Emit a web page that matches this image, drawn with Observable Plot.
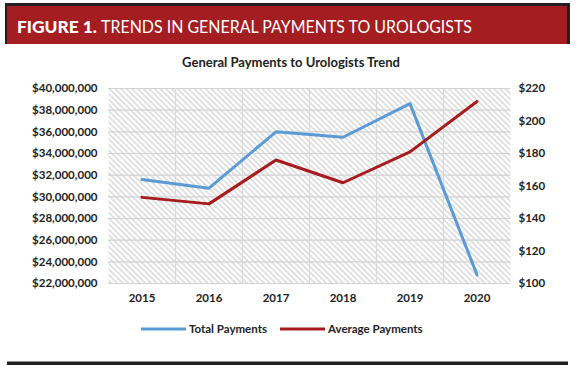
<!DOCTYPE html>
<html>
<head>
<meta charset="utf-8">
<script src="https://cdn.jsdelivr.net/npm/d3@7"></script>
<script src="https://cdn.jsdelivr.net/npm/@observablehq/plot@0.6"></script>
<style>
  html, body { margin: 0; padding: 0; background: #fff; }
  #wrap { position: relative; width: 576px; height: 376px; overflow: hidden; font-family: Lato, "Open Sans", sans-serif; }
  #chart { position: absolute; left: 0; top: 80px; }
  .abs { position: absolute; }
</style>
</head>
<body>
<div id="wrap">
  <svg class="abs" style="left:0;top:0" width="576" height="50">
    <rect x="5" y="3" width="565" height="41" fill="#231f20"></rect>
    <rect x="7" y="6" width="560" height="38" fill="#a41d21"></rect>
    <text x="17" y="33" fill="#fff" font-family="Lato, sans-serif" font-size="17.5" font-weight="900" textLength="80" lengthAdjust="spacingAndGlyphs">FIGURE 1.</text>
    <text x="101" y="33" fill="#fff" font-family="Lato, sans-serif" font-size="17.5" font-weight="400" textLength="371" lengthAdjust="spacingAndGlyphs">TRENDS IN GENERAL PAYMENTS TO UROLOGISTS</text>
  </svg>
  <div class="abs" id="title" style="left:0;top:54px;width:582px;text-align:center;font:bold 13px Lato, sans-serif;color:#222;">General Payments to Urologists Trend</div>
  <div id="chart"></div>
  <svg class="abs" id="legend" style="left:0;top:318px" width="576" height="24"></svg>
  <svg class="abs" style="left:0;top:355px" width="576" height="20">
    <rect x="7" y="6.5" width="561" height="3.5" fill="#231f20"></rect>
  </svg>
</div>
<script>
// ---- data ----
const years = [2015, 2016, 2017, 2018, 2019, 2020];
const totalPayments = [31600000, 30800000, 36000000, 35500000, 38600000, 22800000];
const averagePayments = [153, 149, 176, 162, 181, 212];
const leftTicks = [22000000, 24000000, 26000000, 28000000, 30000000, 32000000, 34000000, 36000000, 38000000, 40000000];
const rightTicks = [100, 120, 140, 160, 180, 200, 220];
const seriesNames = ["Total Payments", "Average Payments"];
const seriesColors = ["#5b9bd5", "#a61c1e"];

// map right-axis values onto the left scale (dual axis)
const L0 = 22000000, L1 = 40000000, R0 = 100, R1 = 220;
const toLeft = v => L0 + (v - R0) / (R1 - R0) * (L1 - L0);
const fromLeft = v => R0 + (v - L0) / (L1 - L0) * (R1 - R0);

const rows = years.map((y, i) => ({year: y, total: totalPayments[i], avg: averagePayments[i]}));
const fmtMoney = d => "$" + d3.format(",")(d);

const chart = Plot.plot({
  width: 576,
  height: 230,
  marginLeft: 108,
  marginRight: 66,
  marginTop: 8,
  marginBottom: 27,
  style: {fontFamily: "Lato, sans-serif", fontSize: "11.5px", fontWeight: "bold", color: "#222", background: "transparent"},
  x: {type: "linear", domain: [years[0] - 0.5, years[years.length - 1] + 0.5]},
  y: {domain: [L0, L1]},
  marks: [
    Plot.frame({fill: "url(#hatch)", stroke: null}),
    Plot.gridY({ticks: leftTicks, stroke: "#d2d2d2", strokeOpacity: 1, strokeWidth: 1.2}),
    Plot.gridX({ticks: years.slice(0, -1).map(y => y + 0.5), stroke: "#dadada", strokeOpacity: 1, strokeWidth: 1.2}),
    Plot.line(rows, {x: "year", y: "total", stroke: seriesColors[0], strokeWidth: 3}),
    Plot.line(rows, {x: "year", y: d => toLeft(d.avg), stroke: seriesColors[1], strokeWidth: 3}),
    Plot.axisY({ticks: leftTicks, tickFormat: fmtMoney, tickSize: 0, tickPadding: 11, label: null}),
    Plot.axisY({anchor: "right", ticks: rightTicks.map(toLeft), tickFormat: d => "$" + Math.round(fromLeft(d)), tickSize: 0, tickPadding: 8, label: null}),
    Plot.axisX({ticks: years, tickFormat: d => String(d), tickSize: 0, tickPadding: 10, label: null})
  ]
});

// hatch pattern definition
const NS = "http://www.w3.org/2000/svg";
const defs = document.createElementNS(NS, "defs");
const pat = document.createElementNS(NS, "pattern");
pat.setAttribute("id", "hatch");
pat.setAttribute("patternUnits", "userSpaceOnUse");
pat.setAttribute("width", "4");
pat.setAttribute("height", "4");
pat.setAttribute("patternTransform", "rotate(45)");
const bg = document.createElementNS(NS, "rect");
bg.setAttribute("width", "4"); bg.setAttribute("height", "4"); bg.setAttribute("fill", "#ffffff");
const ln = document.createElementNS(NS, "rect");
ln.setAttribute("width", "4"); ln.setAttribute("height", "1.6"); ln.setAttribute("fill", "#d9d9d9");
pat.appendChild(bg); pat.appendChild(ln);
defs.appendChild(pat);
chart.insertBefore(defs, chart.firstChild);
document.getElementById("chart").appendChild(chart);

// legend
const lg = d3.select("#legend");
const legendItems = [{x: 141, tx: 189}, {x: 280, tx: 328}];
legendItems.forEach((it, i) => {
  lg.append("line").attr("x1", it.x).attr("x2", it.x + 45).attr("y1", 11).attr("y2", 11)
    .attr("stroke", seriesColors[i]).attr("stroke-width", 3.2);
  lg.append("text").attr("x", it.tx).attr("y", 15).text(seriesNames[i])
    .attr("font-family", "Lato, sans-serif").attr("font-weight", "bold").attr("font-size", "11.5px").attr("fill", "#222");
});
</script>
</body>
</html>
